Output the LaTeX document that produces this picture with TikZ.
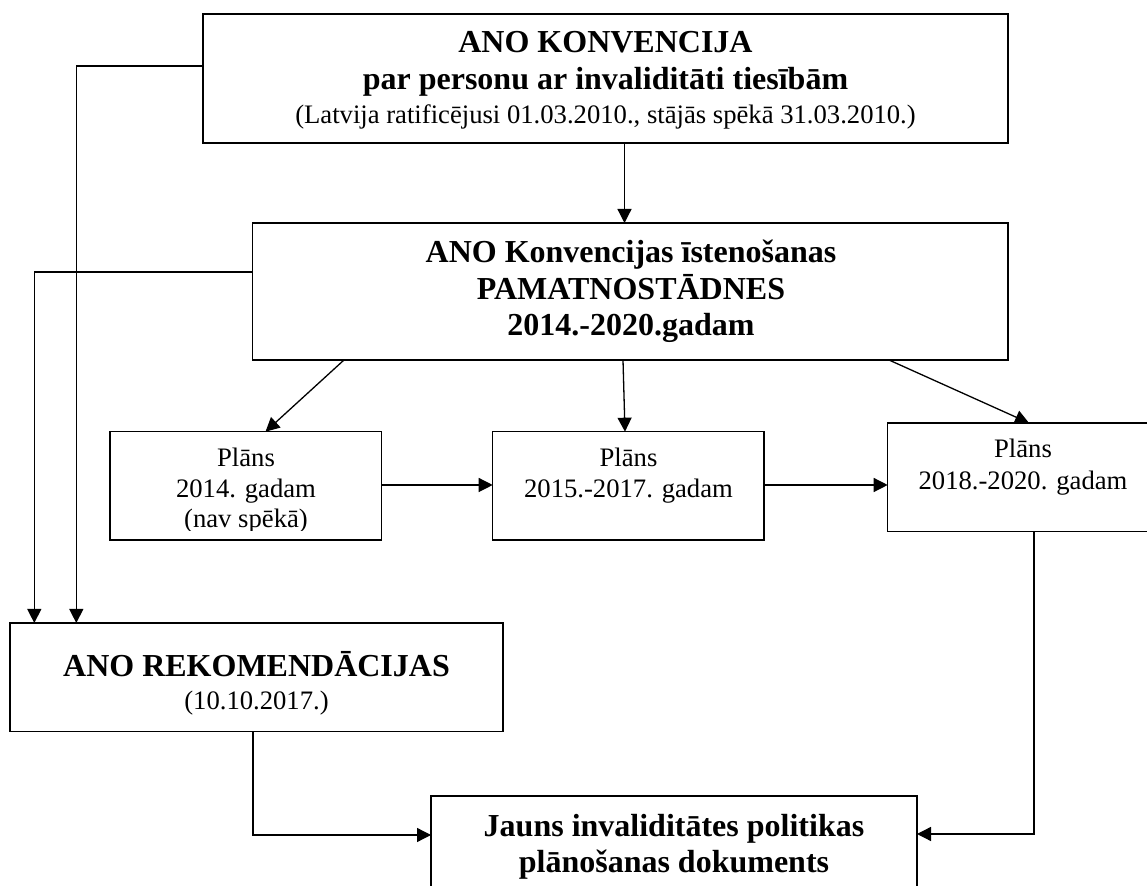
\documentclass[tikz,border=0pt]{standalone}
\usepackage{fontspec}
\setmainfont{Liberation Serif}
\usetikzlibrary{arrows.meta}
\begin{document}
\begin{tikzpicture}[x=0.5pt,y=-0.5pt,
  box/.style={draw,line width=0.75pt,inner sep=0pt,outer sep=0pt,rectangle},
  big/.style={font=\fontsize{16pt}{18pt}\selectfont\bfseries,anchor=base,inner sep=0pt},
  small/.style={font=\fontsize{13.33pt}{15pt}\selectfont,anchor=base,inner sep=0pt},
  arr/.style={line width=0.65pt,-{Triangle[length=7pt,width=7pt]}}]

\useasboundingbox (0,0) rectangle (1147,886);
\clip (0,0) rectangle (1147,886);

% boxes
\node[box,minimum width=402.5pt,minimum height=64.5pt] (conv) at (605.5,78.5) {};
\node[box,minimum width=377.65pt,minimum height=68.5pt] (guide) at (630.35,291.5) {};
\node[box,minimum width=135.85pt,minimum height=54.15pt] (p1) at (245.85,485.85) {};
\node[box,minimum width=135.65pt,minimum height=54.15pt] (p2) at (628.35,485.85) {};
\node[box,minimum width=135.15pt,minimum height=54.35pt] (p3) at (1022.85,477.35) {};
\node[box,minimum width=246.5pt,minimum height=54.25pt] (rekom) at (256.5,677.25) {};
\node[box,minimum width=243pt,minimum height=54.5pt] (bottom) at (674,850.5) {};

% texts
\node[big] (t1) at (605.5,53) {ANO KONVENCIJA};
\node[big] (t2) at (605.5,90) {par personu ar invaliditāti tiesībām};
\node[small] (t3) at (605.5,123.5) {(Latvija ratificējusi 01.03.2010., stājās spēkā 31.03.2010.)};

\node[big] (g1) at (631,263) {ANO Konvencijas īstenošanas};
\node[big] (g2) at (631,300) {PAMATNOSTĀDNES};
\node[big] (g3) at (631,336) {2014.-2020.gadam};

\begin{scope}
\clip (110,431.7) rectangle (381.7,530.5);
\node[small] (a1) at (246,467) {Plāns};
\node[small] (a2) at (246,498) {2014. gadam};
\node[small] (a3) at (246,528) {(nav spēkā)};
\end{scope}

\node[small] (b1) at (628.5,467) {Plāns};
\node[small] (b2) at (628.5,498) {2015.-2017. gadam};

\node[small] (c1) at (1023,458) {Plāns};
\node[small] (c2) at (1023,490) {2018.-2020. gadam};

\node[big] (r1) at (256.5,677) {ANO REKOMENDĀCIJAS};
\node[small] (r2) at (256.5,710) {(10.10.2017.)};

\node[big] (j1) at (674,837) {Jauns invaliditātes politikas};
\node[big] (j2) at (674,873) {plānošanas dokuments};

% connectors
\coordinate (xa) at (624.5,0);
\draw[arr] (conv.south -| xa) -- (guide.north -| xa);

\coordinate (ya) at (0,66);
\coordinate (xb) at (76.3,0);
\draw[arr] (conv.west |- ya) -| (rekom.north -| xb);

\coordinate (yb) at (0,272);
\coordinate (xc) at (34.3,0);
\draw[arr] (guide.west |- yb) -| (rekom.north -| xc);

\coordinate (s1) at (344,0);
\coordinate (e1) at (265.5,0);
\draw[arr] (guide.south -| s1) -- (p1.north -| e1);

\coordinate (s2) at (623,0);
\coordinate (e2) at (625,0);
\draw[arr] (guide.south -| s2) -- (p2.north -| e2);

\coordinate (s3) at (889,0);
\coordinate (e3) at (1029,0);
\draw[arr] (guide.south -| s3) -- (p3.north -| e3);

\coordinate (yc) at (0,485);
\draw[arr] (p1.east |- yc) -- (p2.west |- yc);
\draw[arr] (p2.east |- yc) -- (p3.west |- yc);

\coordinate (xd) at (1034,0);
\coordinate (yd) at (0,834);
\draw[arr] (p3.south -| xd) |- (bottom.east |- yd);

\coordinate (xe) at (253,0);
\coordinate (ye) at (0,835);
\draw[arr] (rekom.south -| xe) |- (bottom.west |- ye);
\end{tikzpicture}
\end{document}
